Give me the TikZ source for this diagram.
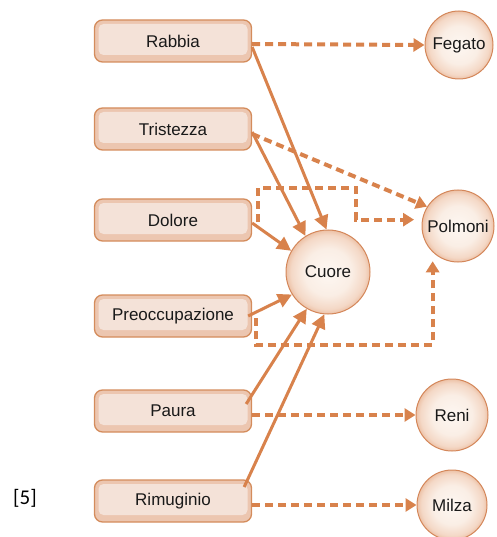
\documentclass[tikz,border=0pt]{standalone}
\usepackage{fontspec}
\setmainfont{Liberation Sans}
\newfontfamily\labelfont{Carlito}
\usetikzlibrary{arrows.meta}
\definecolor{lc}{HTML}{D8824C}
\definecolor{boxedge}{HTML}{D48C5C}
\definecolor{boxring}{HTML}{ECC6B0}
\definecolor{boxin}{HTML}{F4E2D8}
\definecolor{orgedge}{HTML}{D4875A}
\pgfdeclareradialshading{orgshade}{\pgfpoint{0bp}{0bp}}{%
  color(0bp)=(rgb,255:red,253;green,247;blue,242);
  color(14bp)=(rgb,255:red,250;green,238;blue,229);
  color(22bp)=(rgb,255:red,244;green,216;blue,198);
  color(26bp)=(rgb,255:red,234;green,186;blue,156);
  color(50bp)=(rgb,255:red,234;green,186;blue,156)}
\begin{document}
\begin{tikzpicture}[x=1pt,y=-1pt,
  emo/.style={draw=boxedge, line width=1.3pt, fill=boxring, rounded corners=8pt,
    minimum width=157pt, minimum height=42pt, inner sep=0pt,
    font=\fontsize{17}{20}\selectfont, text=black!90,
    path picture={\fill[boxin, rounded corners=5pt]
      ([shift={(4pt,-4pt)}]path picture bounding box.north west) rectangle
      ([shift={(-4pt,7pt)}]path picture bounding box.south east);}},
  organ/.style={circle, draw=orgedge, line width=1pt, shading=orgshade,
    minimum size=70pt, inner sep=0pt, font=\fontsize{17}{20}\selectfont, text=black!90},
  solidarrow/.style={draw=lc, line width=3pt, -{Triangle[length=14pt,width=14pt]}},
  dasharrow/.style={draw=lc, line width=4pt, dash pattern=on 8pt off 5pt,
    -{Triangle[length=11pt,width=13pt]}},
]
\useasboundingbox (0,0) rectangle (496,537);

% emotion boxes
\node[emo] (rab) at (173,41)  {Rabbia};
\node[emo] (tri) at (173,129) {Tristezza};
\node[emo] (dol) at (173,220) {Dolore};
\node[emo] (pre) at (173,316) {Preoccupazione};
\node[emo] (pau) at (173,411) {Paura};
\node[emo] (rim) at (173,501) {Rimuginio};

% organs
\node[organ, minimum size=68pt] (feg) at (459,45)  {Fegato};
\node[organ, minimum size=72pt] (pol) at (458,226) {Polmoni};
\node[organ, minimum size=84pt] (cuo) at (328,272) {Cuore};
\node[organ, minimum size=72pt] (ren) at (452,415) {Reni};
\node[organ, minimum size=70pt] (mil) at (452,505) {Milza};

\node[font=\labelfont\fontsize{21}{24}\selectfont] (lab) at (25,498) {[5]};

% dashed connectors
\draw[dasharrow] ([yshift=-3pt]rab.east) -- (feg.west);
\draw[dasharrow] ([yshift=-5pt]tri.east) -- (pol.148);
\draw[dasharrow, shorten >=8pt] ([xshift=6pt,yshift=-2pt]dol.east) |- (356,188) |- (pol.170);
\draw[dasharrow, shorten >=9pt] ([xshift=4pt,yshift=-2pt]pre.east) |- (300,345) -| (pol.226);
\draw[dasharrow] ([yshift=-4pt]pau.east) -- (ren.west);
\draw[dasharrow] ([yshift=-4pt]rim.east) -- (mil.west);

% solid connectors
\draw[solidarrow] ([yshift=-6pt]rab.east) -- (cuo.92);
\draw[solidarrow] ([yshift=-3pt]tri.east) -- (cuo.122);
\draw[solidarrow] ([yshift=-3pt]dol.east) -- (cuo.150);
\draw[solidarrow] ([xshift=-4pt]pre.east) -- (cuo.212);
\draw[solidarrow] ([xshift=-6pt,yshift=7pt]pau.east) -- (cuo.240);
\draw[solidarrow] ([xshift=-8pt,yshift=14pt]rim.east) -- (cuo.265);
\end{tikzpicture}
\end{document}
